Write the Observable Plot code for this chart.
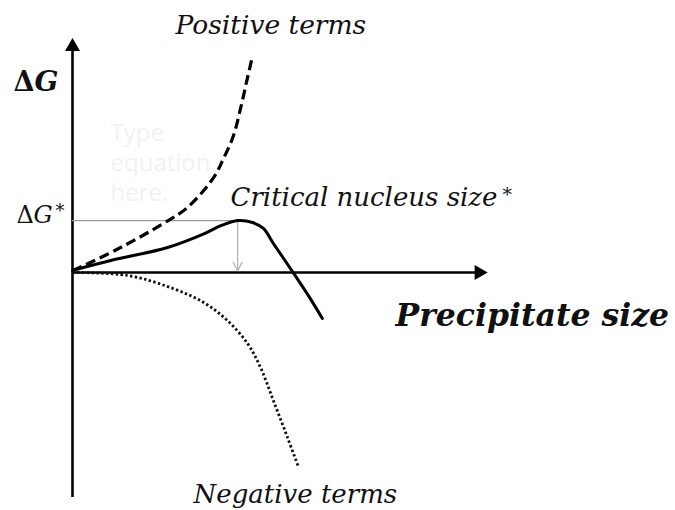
<!DOCTYPE html>
<html>
<head>
<meta charset="utf-8">
<script src="https://cdn.jsdelivr.net/npm/d3@7"></script>
<script src="https://cdn.jsdelivr.net/npm/@observablehq/plot@0.6"></script>
<style>
  html, body { margin: 0; padding: 0; background: #fff; }
  #chart svg { display: block; }
</style>
</head>
<body>
<div id="chart"></div>
<script>
// Curves (x: precipitate size, y: ΔG, arbitrary units)
const positiveX = [0, 0.12, 1.16, 2.19, 2.77, 3.40, 3.64, 3.88, 4.05, 4.19, 4.34];
const positiveY = [0.09, 0.18, 1.11, 2.18, 2.89, 4.22, 5.07, 6.09, 7.29, 8.44, 9.64];

const totalX = [0, 0.92, 2.29, 3.18, 3.59, 3.98, 4.34, 4.60, 4.84, 5.33, 5.73, 6.02];
const totalY = [0.09, 0.53, 1.11, 1.73, 2.09, 2.31, 2.22, 1.96, 1.29, -0.04, -1.16, -2.04];

const negativeX = [0, 1.33, 2.36, 3.16, 3.73, 4.22, 4.53, 4.84, 5.18, 5.45];
const negativeY = [0, -0.13, -0.67, -1.33, -2.13, -3.16, -4.22, -5.69, -7.33, -8.67];

const criticalSize = 3.98;
const criticalG = 2.31;

const labels = {
  positive: "Positive terms",
  negative: "Negative terms",
  critical: "Critical nucleus size",
  star: "*",
  xTitle: "Precipitate size",
  delta: "Δ",
  g: "G",
  placeholder: "Type\nequation\nhere."
};

const toRows = (xs, ys) => xs.map((x, i) => ({x, y: ys[i]}));
const positive = toRows(positiveX, positiveY);
const total = toRows(totalX, totalY);
const negative = toRows(negativeX, negativeY);

const serif = "DejaVu Serif, serif";
const txt = (s, o) => Plot.text([s], {text: d => d, frameAnchor: "top-left", textAnchor: "start", lineAnchor: "bottom", fontFamily: serif, fill: "#111", ...o});

const chart = Plot.plot({
  width: 675,
  height: 510,
  margin: 0,
  x: {domain: [0, 10], range: [72, 487], axis: null},
  y: {domain: [-10, 10], range: [497, 47], axis: null},
  style: {background: "#fff", overflow: "visible"},
  marks: [
    // faint placeholder text
    txt(labels.placeholder, {dx: 110, dy: 200, fontFamily: "Open Sans, sans-serif", fontSize: 24, lineHeight: 1.25, fill: "#f2f2f2"}),
    // axes
    Plot.ruleX([0], {y1: -10, y2: 10.0, stroke: "#000", strokeWidth: 2.6}),
    Plot.ruleY([0], {x1: 0, x2: 9.8, stroke: "#000", strokeWidth: 2.6}),
    Plot.dot([{x: 0, y: 10.04}], {x: "x", y: "y", symbol: "triangle", r: 5.6, fill: "#000", stroke: null}),
    Plot.dot([{x: 9.795, y: 0}], {x: "x", y: "y", symbol: "triangle", r: 5.6, rotate: 90, fill: "#000", stroke: null}),
    // critical point guides
    Plot.ruleY([criticalG], {x1: 0, x2: criticalSize, stroke: "#9a9a9a", strokeWidth: 1.2}),
    Plot.arrow([{x: criticalSize, y1: criticalG - 0.05, y2: 0.08}], {x: "x", y1: "y1", y2: "y2", stroke: "#b5b5b5", strokeWidth: 1.3, headLength: 11, headAngle: 55}),
    // curves
    Plot.line(positive, {x: "x", y: "y", curve: "catmull-rom", stroke: "#000", strokeWidth: 3.2, strokeDasharray: "10,5", strokeLinecap: "butt"}),
    Plot.line(negative, {x: "x", y: "y", curve: "catmull-rom", stroke: "#111", strokeWidth: 2.8, strokeDasharray: "2.4,2.4", strokeLinecap: "butt"}),
    Plot.line(total, {x: "x", y: "y", curve: "catmull-rom", stroke: "#000", strokeWidth: 3}),
    // labels
    txt(labels.positive, {dx: 175, dy: 33, fontSize: 26.5, fontStyle: "italic"}),
    txt(labels.negative, {dx: 193, dy: 502, fontSize: 26, fontStyle: "italic"}),
    txt(labels.critical, {dx: 230, dy: 205, fontSize: 26, fontStyle: "italic"}),
    txt(labels.star, {dx: 502, dy: 200, fontSize: 19}),
    txt(labels.xTitle, {dx: 395, dy: 325, fontSize: 31.5, fontStyle: "italic", fontWeight: "bold"}),
    txt(labels.delta, {dx: 13, dy: 90, fontSize: 27, fontWeight: "bold"}),
    txt(labels.g, {dx: 34, dy: 90, fontSize: 28, fontWeight: "bold", fontStyle: "italic"}),
    txt(labels.delta, {dx: 16, dy: 222, fontSize: 24}),
    txt(labels.g, {dx: 33, dy: 222, fontSize: 24, fontStyle: "italic"}),
    txt(labels.star, {dx: 55, dy: 216, fontSize: 18})
  ]
});

document.getElementById("chart").appendChild(chart);
</script>
</body>
</html>
